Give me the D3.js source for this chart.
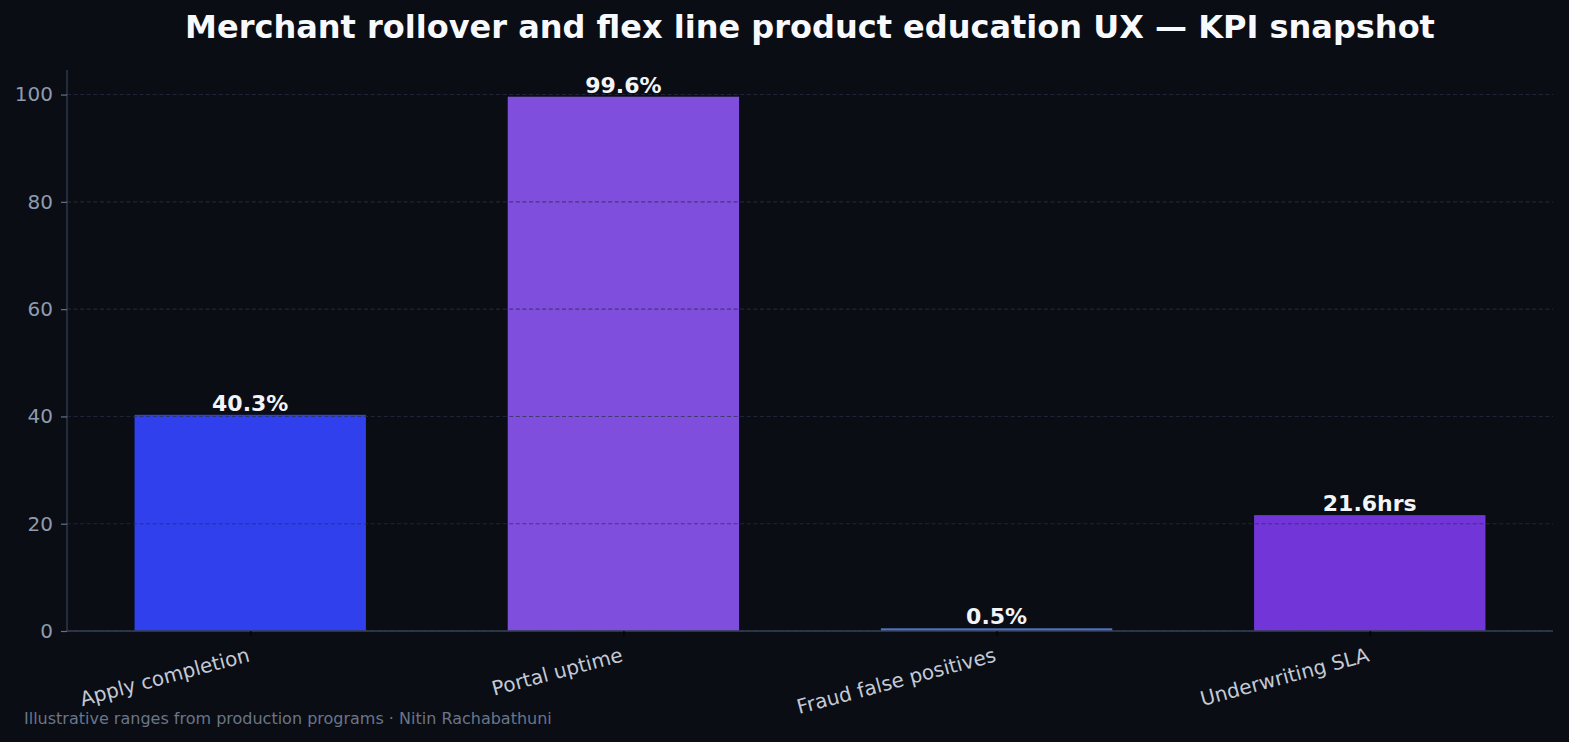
<!DOCTYPE html>
<html>
<head>
<meta charset="utf-8">
<script src="https://cdn.jsdelivr.net/npm/d3@7"></script>
<style>
html,body{margin:0;padding:0;background:#0a0d14;}
svg{display:block;}
text{font-family:"DejaVu Sans",sans-serif;}
</style>
</head>
<body>
<svg id="chart" width="1569" height="742"></svg>
<script>
const categories = ["Apply completion", "Portal uptime", "Fraud false positives", "Underwriting SLA"];
const values = [40.3, 99.6, 0.5, 21.6];
const valueLabels = ["40.3%", "99.6%", "0.5%", "21.6hrs"];
const barColors = ["#2f40ec", "#7f4edc", "#4f73c8", "#7236d8"];
const yTicks = [0, 20, 40, 60, 80, 100];
const titleText = "Merchant rollover and flex line product education UX — KPI snapshot";
const footerText = "Illustrative ranges from production programs · Nitin Rachabathuni";

const W = 1569, H = 742;
const m = {left: 67, right: 1553, top: 70, bottom: 631};
const barW = 0.62;
const svg = d3.select("#chart");
svg.append("rect").attr("width", W).attr("height", H).attr("fill", "#0a0d14");

const x = d3.scaleLinear().domain([-0.491, 3.491]).range([m.left, m.right]);
const y = d3.scaleLinear().domain([0, 104.58]).range([m.bottom, m.top]);

// bars
svg.append("g").selectAll("rect").data(values).join("rect")
  .attr("x", (d, i) => x(i - barW / 2))
  .attr("width", (d, i) => x(i + barW / 2) - x(i - barW / 2))
  .attr("y", d => y(d))
  .attr("height", d => y(0) - y(d))
  .attr("fill", (d, i) => barColors[i]);

// grid over bars
svg.append("g").selectAll("line").data(yTicks).join("line")
  .attr("x1", m.left).attr("x2", m.right)
  .attr("y1", d => y(d)).attr("y2", d => y(d))
  .attr("stroke", "#2a3144").attr("stroke-opacity", 0.7)
  .attr("stroke-width", 1.1).attr("stroke-dasharray", "4,2.6");

// y axis
const yAxis = svg.append("g").attr("transform", `translate(${m.left},0)`)
  .call(d3.axisLeft(y).tickValues(yTicks).tickSize(6).tickPadding(8).tickFormat(d3.format("d")));
yAxis.select(".domain").attr("stroke", "#344055").attr("stroke-width", 1.3)
  .attr("d", `M0,${m.top}V${m.bottom}`);
yAxis.selectAll(".tick line").attr("stroke", "#66728a").attr("stroke-width", 1.2);
yAxis.selectAll(".tick text").attr("fill", "#8f9bb0").attr("font-size", 20)
  .attr("font-family", "DejaVu Sans");

// x axis
const xAxis = svg.append("g").attr("transform", `translate(0,${m.bottom})`)
  .call(d3.axisBottom(x).tickValues(d3.range(categories.length)).tickSize(5)
    .tickFormat(i => categories[i]));
xAxis.select(".domain").attr("stroke", "#344055").attr("stroke-width", 1.6)
  .attr("d", `M${m.left},0H${m.right}`);
xAxis.selectAll(".tick line").attr("stroke", "#000").attr("stroke-width", 1.2);
xAxis.selectAll(".tick text")
  .attr("fill", "#c3cad6").attr("font-size", 20).attr("font-family", "DejaVu Sans")
  .attr("text-anchor", "end").attr("dy", null).attr("y", 0)
  .attr("transform", "translate(0,30) rotate(-15)");

// value labels
svg.append("g").selectAll("text").data(values).join("text")
  .attr("x", (d, i) => x(i))
  .attr("y", d => y(d) - 4)
  .attr("text-anchor", "middle")
  .attr("fill", "#f2f4f8").attr("font-weight", "bold").attr("font-size", 22)
  .text((d, i) => valueLabels[i]);

// title
svg.append("text").attr("x", 810).attr("y", 38).attr("text-anchor", "middle")
  .attr("fill", "#f8f9fc").attr("font-weight", "bold").attr("font-size", 32)
  .text(titleText);

// footer
svg.append("text").attr("x", 24).attr("y", 724)
  .attr("fill", "#6b7588").attr("font-size", 16)
  .text(footerText);
</script>
</body>
</html>
